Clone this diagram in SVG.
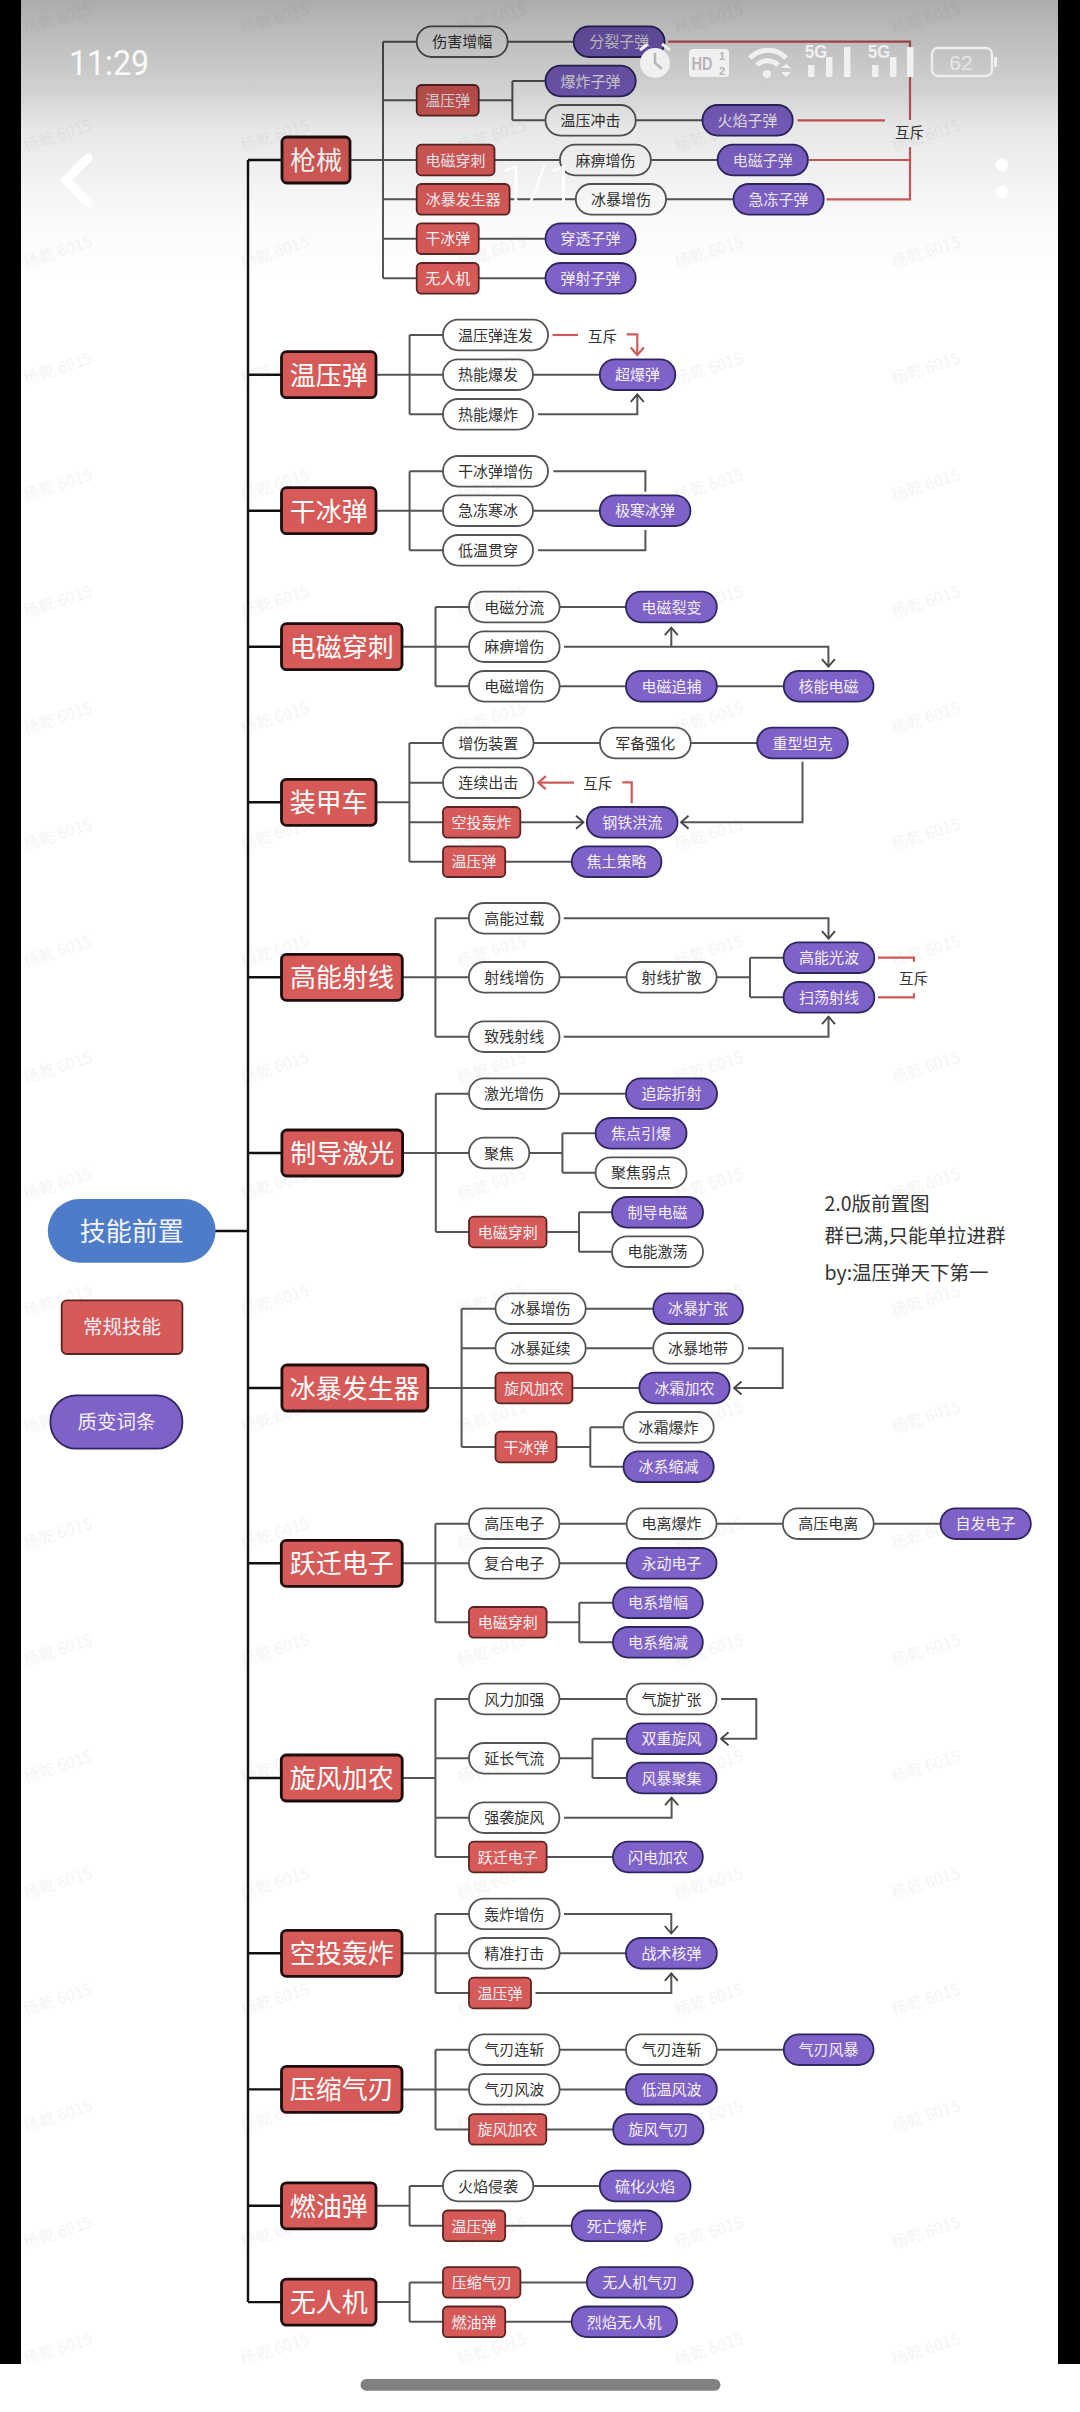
<svg xmlns="http://www.w3.org/2000/svg" width="1080" height="2412" viewBox="0 0 1080 2412">
<style>
text{font-family:"Noto Sans CJK SC","Noto Sans",sans-serif;text-anchor:middle}
.w,.p,.r,.R,.L{stroke-width:1.8}
.w{fill:#fff;stroke:#555;rx:15px}
.p{fill:#7e62c8;stroke:#2e2660;rx:15px}
.r{fill:#d65a57;stroke:#5a2422;rx:4.5px}
.R{fill:#d65a57;stroke:#1c0c0c;stroke-width:2.8;rx:5px}
.t{font-size:15px;fill:#333}
.tw{font-size:15px;fill:#f6f0f6}
.tR{font-size:26px;fill:#fff}
.tL{font-size:19.5px;fill:#f6f0f6}
.c{fill:none;stroke:#555;stroke-width:2}
.k{fill:none;stroke:#111;stroke-width:2.4}
.x{fill:none;stroke:#cf5a5a;stroke-width:2.2}
.a{marker-end:url(#ad)}
.b{marker-end:url(#ar)}
.note{font-size:19.5px;fill:#333;text-anchor:start}
.ic{fill:#f0f0f0}
</style>
<defs>
<marker id="ad" markerUnits="userSpaceOnUse" markerWidth="20" markerHeight="20" refX="10" refY="10" orient="auto"><path d="M2.5 3.5L10 10L2.5 16.5" fill="none" stroke="#444" stroke-width="1.8"/></marker>
<marker id="ar" markerUnits="userSpaceOnUse" markerWidth="20" markerHeight="20" refX="10" refY="10" orient="auto"><path d="M2.5 3.5L10 10L2.5 16.5" fill="none" stroke="#cf5a5a" stroke-width="2.2"/></marker>
<linearGradient id="shade" x1="0" y1="0" x2="0" y2="1"><stop offset="0" stop-color="#000" stop-opacity=".33"/><stop offset=".107" stop-color="#000" stop-opacity=".27"/><stop offset=".321" stop-color="#000" stop-opacity=".18"/><stop offset=".464" stop-color="#000" stop-opacity=".09"/><stop offset=".607" stop-color="#000" stop-opacity=".06"/><stop offset=".786" stop-color="#000" stop-opacity=".02"/><stop offset="1" stop-color="#000" stop-opacity="0"/></linearGradient>
<pattern id="wm" patternUnits="userSpaceOnUse" x="-50.5" y="-38.25" width="217" height="116.5"><text x="108.5" y="63" font-size="16" fill="#8a6a6a" fill-opacity=".09" transform="rotate(-18 108.5 58)">杨乾 6015</text></pattern>
</defs>
<rect width="1080" height="2412" fill="#fff"/>
<rect x="0" y="0" width="21" height="2364" fill="#000"/>
<rect x="1058" y="0" width="22" height="2364" fill="#000"/>

<g id="connectors">
<path class="k" d="M248 160V2302.1M215 1231H248M248 160H282M248 374.7H282M248 510.7H282M248 646.7H282M248 802.3H282M248 977.3H282M248 1153H282M248 1388H282M248 1563.3H282M248 1778H282M248 1953.3H282M248 2089.4H282M248 2205.8H282M248 2302.1H282"/>
<!-- 枪械 -->
<path class="c" d="M350 160H417M383 41.7V278.3M383 41.7H417M383 100.3H417M383 199.3H417M383 238.7H417M383 278.3H417M507.6 41.7H574M478.7 100.3H512.4M512.4 81V120.3M512.4 81H545.5M512.4 120.3H545.5M635.7 120.3H702.5M494.5 160H560M650.8 160H717.6M509.6 199.3H575.8M666 199.3H733.5M478.7 238.7H545.5M478.7 278.3H545.5"/>
<path class="x" d="M668 41.7H910V120M910 147V199.3H826.5M797.5 120.3H885M809 160H910"/>
<!-- 温压弹 -->
<path class="c" d="M376 374.7H443M409.6 335V414.3M409.6 335H443M409.6 414.3H443M533 374.7H600"/>
<path class="c a" d="M538 414.3H637.3V394.3"/>
<path class="x" d="M552.5 335H578"/>
<path class="x b" d="M626.6 334.3H637.3V355"/>
<!-- 干冰弹 -->
<path class="c" d="M376 510.7H443M409.6 471.3V550.3M409.6 471.3H443M409.6 550.3H443M533 510.7H600M553.4 471.3H645.4V491.7M538 550.3H645.4V530"/>
<!-- 电磁穿刺 -->
<path class="c" d="M402 646.7H469M435.5 607V686.3M435.5 607H469M435.5 686.3H469M559.6 607H626M559.6 686.3H626M716.8 686.3H783.8"/>
<path class="c a" d="M564 646.7H828.4V666.7"/>
<path class="c a" d="M671.3 646.7V627.7"/>
<!-- 装甲车 -->
<path class="c" d="M376 802.3H409.4M409.4 743V861.7M409.4 743H443M409.4 782.7H443M409.4 861.7H443M533.5 743H600M690.7 743H757.2M505.2 861.7H571.8"/>
<path class="c a" d="M409.4 822.3H583.5"/>
<path class="c a" d="M802.5 761.7V822.3H681"/>
<path class="x b" d="M574 782.7H538.3"/>
<path class="x" d="M622.3 782.3H631.7V803.3"/>
<!-- 高能射线 -->
<path class="c" d="M402.3 977.3H469M435.4 918.3V1036.7M435.4 918.3H469M435.4 1036.7H469M559.5 977.3H626.5M716.6 977.3H750M750 957.7V997.3M750 957.7H783.6M750 997.3H783.6"/>
<path class="c a" d="M563.7 918.3H828.5V938.7"/>
<path class="c a" d="M563.7 1036.7H828.5V1016.7"/>
<path class="x" d="M878 957.7H914V961.7M878 997.3H914V993.3"/>
<!-- 制导激光 -->
<path class="c" d="M402.6 1153H469M435.8 1093.7V1232M435.8 1093.7H469M435.8 1232H469M559 1093.7H626M529.3 1153H562.4M562.4 1133.3V1172.7M562.4 1133.3H595.6M562.4 1172.7H595.6M546.5 1232H579M579 1212.3V1251.7M579 1212.3H612M579 1251.7H612"/>
<!-- 冰暴发生器 -->
<path class="c" d="M427.8 1388H495.5M461.6 1308.7V1447M461.6 1308.7H495.5M461.6 1348.3H495.5M461.6 1447H495.5M585.7 1308.7H653.3M585.7 1348.3H653.3M572.4 1388H639.4M556.5 1447H590.3M590.3 1427.3V1466.7M590.3 1427.3H623.5M590.3 1466.7H623.5"/>
<path class="c a" d="M748 1348.3H782.7V1388H734"/>
<!-- 跃迁电子 -->
<path class="c" d="M402.2 1563.3H469M435.4 1523.7V1622.3M435.4 1523.7H469M435.4 1622.3H469M559.4 1523.7H626.7M716.5 1523.7H782.9M873.7 1523.7H940.5M559.4 1563.3H626.7M546.6 1622.3H579.3M579.3 1602.7V1642.3M579.3 1602.7H613M579.3 1642.3H613"/>
<!-- 旋风加农 -->
<path class="c" d="M402.2 1778H435.4M435.4 1699V1857M435.4 1699H469M435.4 1758.3H469M435.4 1817.7H469M435.4 1857H469M559.4 1699H626.7M559.4 1758.3H592.5M592.5 1738.7V1778M592.5 1738.7H626.7M592.5 1778H626.7M546.6 1857H613"/>
<path class="c a" d="M721 1699H756.3V1738.7H721"/>
<path class="c a" d="M564 1817.7H671.6V1797.7"/>
<!-- 空投轰炸 -->
<path class="c" d="M402 1953.3H469M435.5 1913.9V1993M435.5 1913.9H469M435.5 1993H469M559.6 1953.3H626"/>
<path class="c a" d="M564 1913.9H671.3V1933.5"/>
<path class="c a" d="M535.5 1993H671.3V1973.3"/>
<!-- 压缩气刃 -->
<path class="c" d="M402 2089.4H469M435.5 2049.7V2129.4M435.5 2049.7H469M435.5 2129.4H469M559.6 2049.7H626M716.8 2049.7H783.8M559.6 2089.4H626M546.3 2129.4H613.2"/>
<!-- 燃油弹 -->
<path class="c" d="M376 2205.8H409.6M409.6 2186V2225.8M409.6 2186H443M409.6 2225.8H443M533.3 2186H599.8M505.2 2225.8H571.7"/>
<!-- 无人机 -->
<path class="c" d="M376 2302.1H409.6M409.6 2282.4V2321.8M409.6 2282.4H443M409.6 2321.8H443M520.4 2282.4H586.9M505.2 2321.8H571.7"/>
</g>

<g id="legend-root"><rect x="47.8" y="1199" width="167.8" height="63.7" rx="31.8" fill="#4f7cc8"/><text x="131.7" y="1241" class="tR" style="fill:#f2f4fa">技能前置</text></g>
<g id="legend-regular"><rect class="L" x="61.7" y="1300.3" width="120.7" height="53.7" rx="5" fill="#d65a57" stroke="#5a2422"/><text class="tL" x="122" y="1334.4">常规技能</text></g>
<g id="legend-mutation"><rect class="L" x="50.4" y="1395.3" width="132" height="53.4" rx="26" fill="#7e62c8" stroke="#2e2660"/><text class="tL" x="116.4" y="1429.4">质变词条</text></g>

<g id="gun"><rect class="R" x="282" y="137" width="68" height="46"/><text class="tR" x="316" y="170">枪械</text></g>
<g id="gun-a1"><rect class="w" x="416.7" y="26.4" width="90.9" height="30.6"/><text class="t" x="462.2" y="47.4">伤害增幅</text></g>
<g id="gun-a2"><rect class="p" x="573.7" y="26.4" width="90.9" height="30.6"/><text class="tw" x="619.2" y="47.4">分裂子弹</text></g>
<g id="gun-b1"><rect class="r" x="416.7" y="85" width="62" height="30.6"/><text class="tw" x="447.7" y="106">温压弹</text></g>
<g id="gun-b2"><rect class="p" x="545.5" y="65.7" width="90.2" height="30.6"/><text class="tw" x="590.6" y="86.7">爆炸子弹</text></g>
<g id="gun-b3"><rect class="w" x="545.5" y="105" width="90.2" height="30.6"/><text class="t" x="590.6" y="126">温压冲击</text></g>
<g id="gun-b4"><rect class="p" x="702.5" y="105" width="90.2" height="30.6"/><text class="tw" x="747.6" y="126">火焰子弹</text></g>
<g id="gun-c1"><rect class="r" x="416.7" y="144.7" width="77.8" height="30.6"/><text class="tw" x="455.6" y="165.7">电磁穿刺</text></g>
<g id="gun-c2"><rect class="w" x="560" y="144.7" width="90.8" height="30.6"/><text class="t" x="605.4" y="165.7">麻痹增伤</text></g>
<g id="gun-c3"><rect class="p" x="717.6" y="144.7" width="90.3" height="30.6"/><text class="tw" x="762.7" y="165.7">电磁子弹</text></g>
<g id="gun-d1"><rect class="r" x="416.7" y="184" width="92.9" height="30.6"/><text class="tw" x="463.2" y="205">冰暴发生器</text></g>
<g id="gun-d2"><rect class="w" x="575.8" y="184" width="90.2" height="30.6"/><text class="t" x="620.9" y="205">冰暴增伤</text></g>
<g id="gun-d3"><rect class="p" x="733.5" y="184" width="90.2" height="30.6"/><text class="tw" x="778.6" y="205">急冻子弹</text></g>
<g id="gun-e1"><rect class="r" x="416.7" y="223.4" width="62" height="30.6"/><text class="tw" x="447.7" y="244.4">干冰弹</text></g>
<g id="gun-e2"><rect class="p" x="545.5" y="223.4" width="90.2" height="30.6"/><text class="tw" x="590.6" y="244.4">穿透子弹</text></g>
<g id="gun-f1"><rect class="r" x="416.7" y="263" width="62" height="30.6"/><text class="tw" x="447.7" y="284">无人机</text></g>
<g id="gun-f2"><rect class="p" x="545.5" y="263" width="90.2" height="30.6"/><text class="tw" x="590.6" y="284">弹射子弹</text></g>
<text id="gun-x" class="t" x="909.5" y="138.4" style="font-size:14.5px">互斥</text>

<g id="thermo"><rect class="R" x="281.5" y="351.7" width="94.5" height="46"/><text class="tR" x="328.7" y="384.6">温压弹</text></g>
<g id="thermo-1"><rect class="w" x="443" y="319.7" width="105" height="30.6"/><text class="t" x="495.5" y="340.7">温压弹连发</text></g>
<g id="thermo-2"><rect class="w" x="443" y="359.4" width="90" height="30.6"/><text class="t" x="488" y="380.4">热能爆发</text></g>
<g id="thermo-3"><rect class="w" x="443" y="399" width="90" height="30.6"/><text class="t" x="488" y="420">热能爆炸</text></g>
<g id="thermo-4"><rect class="p" x="599.8" y="359.4" width="75.5" height="30.6"/><text class="tw" x="637.5" y="380.4">超爆弹</text></g>
<text id="thermo-x" class="t" x="602.5" y="342.4" style="font-size:14.5px">互斥</text>

<g id="ice"><rect class="R" x="281.5" y="487.7" width="94.5" height="46"/><text class="tR" x="328.7" y="520.6">干冰弹</text></g>
<g id="ice-1"><rect class="w" x="443" y="456" width="105" height="30.6"/><text class="t" x="495.5" y="477">干冰弹增伤</text></g>
<g id="ice-2"><rect class="w" x="443" y="495.4" width="90" height="30.6"/><text class="t" x="488" y="516.4">急冻寒冰</text></g>
<g id="ice-3"><rect class="w" x="443" y="535" width="90" height="30.6"/><text class="t" x="488" y="556">低温贯穿</text></g>
<g id="ice-4"><rect class="p" x="599.8" y="495.4" width="90.6" height="30.6"/><text class="tw" x="645.1" y="516.4">极寒冰弹</text></g>

<g id="em"><rect class="R" x="281.5" y="623.7" width="120.5" height="46"/><text class="tR" x="341.7" y="656.6">电磁穿刺</text></g>
<g id="em-1"><rect class="w" x="469" y="591.7" width="90.6" height="30.6"/><text class="t" x="514.3" y="612.7">电磁分流</text></g>
<g id="em-2"><rect class="w" x="469" y="631.4" width="90.6" height="30.6"/><text class="t" x="514.3" y="652.4">麻痹增伤</text></g>
<g id="em-3"><rect class="w" x="469" y="671" width="90.6" height="30.6"/><text class="t" x="514.3" y="692">电磁增伤</text></g>
<g id="em-4"><rect class="p" x="626" y="591.7" width="90.8" height="30.6"/><text class="tw" x="671.4" y="612.7">电磁裂变</text></g>
<g id="em-5"><rect class="p" x="626" y="671" width="90.8" height="30.6"/><text class="tw" x="671.4" y="692">电磁追捕</text></g>
<g id="em-6"><rect class="p" x="783.8" y="671" width="89.7" height="30.6"/><text class="tw" x="828.6" y="692">核能电磁</text></g>

<g id="tank"><rect class="R" x="281.5" y="779.3" width="94.5" height="46"/><text class="tR" x="328.7" y="812.2">装甲车</text></g>
<g id="tank-1"><rect class="w" x="443" y="727.7" width="90.5" height="30.6"/><text class="t" x="488.2" y="748.7">增伤装置</text></g>
<g id="tank-2"><rect class="w" x="600" y="727.7" width="90.7" height="30.6"/><text class="t" x="645.3" y="748.7">军备强化</text></g>
<g id="tank-3"><rect class="p" x="757.2" y="727.7" width="90.6" height="30.6"/><text class="tw" x="802.5" y="748.7">重型坦克</text></g>
<g id="tank-4"><rect class="w" x="443" y="767.4" width="90.5" height="30.6"/><text class="t" x="488.2" y="788.4">连续出击</text></g>
<g id="tank-5"><rect class="r" x="443" y="807" width="77.3" height="30.6"/><text class="tw" x="481.6" y="828">空投轰炸</text></g>
<g id="tank-6"><rect class="p" x="586.9" y="807" width="90.6" height="30.6"/><text class="tw" x="632.2" y="828">钢铁洪流</text></g>
<g id="tank-7"><rect class="r" x="443" y="846.4" width="62.2" height="30.6"/><text class="tw" x="474.1" y="867.4">温压弹</text></g>
<g id="tank-8"><rect class="p" x="571.8" y="846.4" width="89.6" height="30.6"/><text class="tw" x="616.6" y="867.4">焦土策略</text></g>
<text id="tank-x" class="t" x="597.7" y="789" style="font-size:14.5px">互斥</text>

<g id="beam"><rect class="R" x="281.5" y="954.3" width="120.8" height="46"/><text class="tR" x="341.9" y="987.2">高能射线</text></g>
<g id="beam-1"><rect class="w" x="468.9" y="903" width="90.6" height="30.6"/><text class="t" x="514.2" y="924">高能过载</text></g>
<g id="beam-2"><rect class="w" x="468.9" y="962" width="90.6" height="30.6"/><text class="t" x="514.2" y="983">射线增伤</text></g>
<g id="beam-3"><rect class="w" x="468.9" y="1021.4" width="90.6" height="30.6"/><text class="t" x="514.2" y="1042.4">致残射线</text></g>
<g id="beam-4"><rect class="w" x="626.5" y="962" width="90.1" height="30.6"/><text class="t" x="671.5" y="983">射线扩散</text></g>
<g id="beam-5"><rect class="p" x="783.6" y="942.4" width="90.7" height="30.6"/><text class="tw" x="829" y="963.4">高能光波</text></g>
<g id="beam-6"><rect class="p" x="783.6" y="982" width="90.7" height="30.6"/><text class="tw" x="829" y="1003">扫荡射线</text></g>
<text id="beam-x" class="t" x="913.4" y="984.4" style="font-size:14.5px">互斥</text>

<g id="laser"><rect class="R" x="281.9" y="1130" width="120.7" height="46"/><text class="tR" x="342.2" y="1162.9">制导激光</text></g>
<g id="laser-1"><rect class="w" x="469" y="1078.4" width="90" height="30.6"/><text class="t" x="514" y="1099.4">激光增伤</text></g>
<g id="laser-2"><rect class="p" x="626" y="1078.4" width="91" height="30.6"/><text class="tw" x="671.5" y="1099.4">追踪折射</text></g>
<g id="laser-3"><rect class="w" x="469" y="1137.7" width="60.3" height="30.6"/><text class="t" x="499.1" y="1158.7">聚焦</text></g>
<g id="laser-4"><rect class="p" x="595.6" y="1118" width="90.9" height="30.6"/><text class="tw" x="641" y="1139">焦点引爆</text></g>
<g id="laser-5"><rect class="w" x="595.6" y="1157.4" width="90.9" height="30.6"/><text class="t" x="641" y="1178.4">聚焦弱点</text></g>
<g id="laser-6"><rect class="r" x="469" y="1216.7" width="77.5" height="30.6"/><text class="tw" x="507.7" y="1237.7">电磁穿刺</text></g>
<g id="laser-7"><rect class="p" x="612" y="1197" width="91" height="30.6"/><text class="tw" x="657.5" y="1218">制导电磁</text></g>
<g id="laser-8"><rect class="w" x="612" y="1236.4" width="91" height="30.6"/><text class="t" x="657.5" y="1257.4">电能激荡</text></g>

<g id="note"><text class="note" x="824.5" y="1211">2.0版前置图</text><text class="note" x="824.5" y="1243">群已满,只能单拉进群</text><text class="note" x="824.5" y="1280">by:温压弹天下第一</text></g>

<g id="blizzard"><rect class="R" x="281.9" y="1365" width="145.9" height="46"/><text class="tR" x="354.8" y="1397.9">冰暴发生器</text></g>
<g id="bliz-1"><rect class="w" x="495.5" y="1293.4" width="90.2" height="30.6"/><text class="t" x="540.6" y="1314.4">冰暴增伤</text></g>
<g id="bliz-2"><rect class="p" x="653.3" y="1293.4" width="89.6" height="30.6"/><text class="tw" x="698.1" y="1314.4">冰暴扩张</text></g>
<g id="bliz-3"><rect class="w" x="495.5" y="1333" width="90.2" height="30.6"/><text class="t" x="540.6" y="1354">冰暴延续</text></g>
<g id="bliz-4"><rect class="w" x="653.3" y="1333" width="89.6" height="30.6"/><text class="t" x="698.1" y="1354">冰暴地带</text></g>
<g id="bliz-5"><rect class="r" x="495.5" y="1372.7" width="76.9" height="30.6"/><text class="tw" x="534" y="1393.7">旋风加农</text></g>
<g id="bliz-6"><rect class="p" x="639.4" y="1372.7" width="90.2" height="30.6"/><text class="tw" x="684.5" y="1393.7">冰霜加农</text></g>
<g id="bliz-7"><rect class="r" x="495.5" y="1431.7" width="61" height="30.6"/><text class="tw" x="526" y="1452.7">干冰弹</text></g>
<g id="bliz-8"><rect class="w" x="623.5" y="1412" width="90.2" height="30.6"/><text class="t" x="668.6" y="1433">冰霜爆炸</text></g>
<g id="bliz-9"><rect class="p" x="623.5" y="1451.4" width="90.2" height="30.6"/><text class="tw" x="668.6" y="1472.4">冰系缩减</text></g>

<g id="jump"><rect class="R" x="281.3" y="1540.3" width="120.9" height="46"/><text class="tR" x="341.8" y="1573.2">跃迁电子</text></g>
<g id="jump-1"><rect class="w" x="469" y="1508.4" width="90.4" height="30.6"/><text class="t" x="514.2" y="1529.4">高压电子</text></g>
<g id="jump-2"><rect class="w" x="626.7" y="1508.4" width="89.8" height="30.6"/><text class="t" x="671.6" y="1529.4">电离爆炸</text></g>
<g id="jump-3"><rect class="w" x="782.9" y="1508.4" width="90.8" height="30.6"/><text class="t" x="828.3" y="1529.4">高压电离</text></g>
<g id="jump-4"><rect class="p" x="940.5" y="1508.4" width="90.3" height="30.6"/><text class="tw" x="985.6" y="1529.4">自发电子</text></g>
<g id="jump-5"><rect class="w" x="469" y="1548" width="90.4" height="30.6"/><text class="t" x="514.2" y="1569">复合电子</text></g>
<g id="jump-6"><rect class="p" x="626.7" y="1548" width="89.8" height="30.6"/><text class="tw" x="671.6" y="1569">永动电子</text></g>
<g id="jump-7"><rect class="r" x="469" y="1607" width="77.6" height="30.6"/><text class="tw" x="507.8" y="1628">电磁穿刺</text></g>
<g id="jump-8"><rect class="p" x="613" y="1587.4" width="89.8" height="30.6"/><text class="tw" x="657.9" y="1608.4">电系增幅</text></g>
<g id="jump-9"><rect class="p" x="613" y="1627" width="89.8" height="30.6"/><text class="tw" x="657.9" y="1648">电系缩减</text></g>

<g id="cyclone"><rect class="R" x="281.3" y="1755" width="120.9" height="46"/><text class="tR" x="341.8" y="1787.9">旋风加农</text></g>
<g id="cyc-1"><rect class="w" x="469" y="1683.7" width="90.4" height="30.6"/><text class="t" x="514.2" y="1704.7">风力加强</text></g>
<g id="cyc-2"><rect class="w" x="626.7" y="1683.7" width="89.8" height="30.6"/><text class="t" x="671.6" y="1704.7">气旋扩张</text></g>
<g id="cyc-3"><rect class="w" x="469" y="1743" width="90.4" height="30.6"/><text class="t" x="514.2" y="1764">延长气流</text></g>
<g id="cyc-4"><rect class="p" x="626.7" y="1723.4" width="89.8" height="30.6"/><text class="tw" x="671.6" y="1744.4">双重旋风</text></g>
<g id="cyc-5"><rect class="p" x="626.7" y="1762.7" width="89.8" height="30.6"/><text class="tw" x="671.6" y="1783.7">风暴聚集</text></g>
<g id="cyc-6"><rect class="w" x="469" y="1802.4" width="90.4" height="30.6"/><text class="t" x="514.2" y="1823.4">强袭旋风</text></g>
<g id="cyc-7"><rect class="r" x="469" y="1841.7" width="77.6" height="30.6"/><text class="tw" x="507.8" y="1862.7">跃迁电子</text></g>
<g id="cyc-8"><rect class="p" x="613" y="1841.7" width="89.8" height="30.6"/><text class="tw" x="657.9" y="1862.7">闪电加农</text></g>

<g id="airstrike"><rect class="R" x="281.5" y="1930.3" width="120.5" height="46"/><text class="tR" x="341.7" y="1963.2">空投轰炸</text></g>
<g id="air-1"><rect class="w" x="469" y="1898.6" width="90.6" height="30.6"/><text class="t" x="514.3" y="1919.6">轰炸增伤</text></g>
<g id="air-2"><rect class="w" x="469" y="1938" width="90.6" height="30.6"/><text class="t" x="514.3" y="1959">精准打击</text></g>
<g id="air-3"><rect class="r" x="469" y="1977.7" width="62" height="30.6"/><text class="tw" x="500" y="1998.7">温压弹</text></g>
<g id="air-4"><rect class="p" x="626" y="1938" width="90.8" height="30.6"/><text class="tw" x="671.4" y="1959">战术核弹</text></g>

<g id="blade"><rect class="R" x="281.5" y="2066.4" width="120.5" height="46"/><text class="tR" x="341.7" y="2099.3">压缩气刃</text></g>
<g id="blade-1"><rect class="w" x="469" y="2034.4" width="90.6" height="30.6"/><text class="t" x="514.3" y="2055.4">气刃连斩</text></g>
<g id="blade-2"><rect class="w" x="626" y="2034.4" width="90.8" height="30.6"/><text class="t" x="671.4" y="2055.4">气刃连斩</text></g>
<g id="blade-3"><rect class="p" x="783.8" y="2034.4" width="89.7" height="30.6"/><text class="tw" x="828.6" y="2055.4">气刃风暴</text></g>
<g id="blade-4"><rect class="w" x="469" y="2074.1" width="90.6" height="30.6"/><text class="t" x="514.3" y="2095.1">气刃风波</text></g>
<g id="blade-5"><rect class="p" x="626" y="2074.1" width="90.8" height="30.6"/><text class="tw" x="671.4" y="2095.1">低温风波</text></g>
<g id="blade-6"><rect class="r" x="469" y="2114.1" width="77.3" height="30.6"/><text class="tw" x="507.6" y="2135.1">旋风加农</text></g>
<g id="blade-7"><rect class="p" x="613.2" y="2114.1" width="90.2" height="30.6"/><text class="tw" x="658.3" y="2135.1">旋风气刃</text></g>

<g id="napalm"><rect class="R" x="281.5" y="2182.8" width="94.5" height="46"/><text class="tR" x="328.7" y="2215.7">燃油弹</text></g>
<g id="nap-1"><rect class="w" x="443" y="2170.7" width="90.3" height="30.6"/><text class="t" x="488.1" y="2191.7">火焰侵袭</text></g>
<g id="nap-2"><rect class="p" x="599.8" y="2170.7" width="90.7" height="30.6"/><text class="tw" x="645.1" y="2191.7">硫化火焰</text></g>
<g id="nap-3"><rect class="r" x="443" y="2210.5" width="62.2" height="30.6"/><text class="tw" x="474.1" y="2231.5">温压弹</text></g>
<g id="nap-4"><rect class="p" x="571.7" y="2210.5" width="90.2" height="30.6"/><text class="tw" x="616.8" y="2231.5">死亡爆炸</text></g>

<g id="drone"><rect class="R" x="281.5" y="2279.1" width="94.5" height="46"/><text class="tR" x="328.7" y="2312">无人机</text></g>
<g id="drone-1"><rect class="r" x="443" y="2267.1" width="77.4" height="30.6"/><text class="tw" x="481.7" y="2288.1">压缩气刃</text></g>
<g id="drone-2"><rect class="p" x="586.9" y="2267.1" width="105.8" height="30.6"/><text class="tw" x="639.8" y="2288.1">无人机气刃</text></g>
<g id="drone-3"><rect class="r" x="443" y="2306.5" width="62.2" height="30.6"/><text class="tw" x="474.1" y="2327.5">燃油弹</text></g>
<g id="drone-4"><rect class="p" x="571.7" y="2306.5" width="105.3" height="30.6"/><text class="tw" x="624.3" y="2327.5">烈焰无人机</text></g>

<rect x="21" y="0" width="1037" height="2364" fill="url(#wm)"/>
<rect x="21" y="0" width="1037" height="280" fill="url(#shade)"/>

<g id="status">
<text x="109" y="75" style="font-family:Roboto,sans-serif;font-size:35px;fill:#fafafa" textLength="80" lengthAdjust="spacingAndGlyphs">11:29</text>
<circle cx="655" cy="63" r="15" class="ic"/>
<path d="M655 53V63L662 69" fill="none" stroke="#b5b5b5" stroke-width="2.5"/>
<path d="M640 50L648 44M670 50L662 44" stroke="#f0f0f0" stroke-width="3"/>
<rect x="689" y="49" width="40" height="28" rx="4" class="ic"/>
<text x="702" y="70" style="font-family:'Liberation Sans',sans-serif;font-size:19px;font-weight:700;fill:#b5b5b5" textLength="21" lengthAdjust="spacingAndGlyphs">HD</text>
<text x="722" y="60" style="font-family:'Liberation Sans',sans-serif;font-size:11px;font-weight:700;fill:#b5b5b5">1</text>
<text x="722" y="75" style="font-family:'Liberation Sans',sans-serif;font-size:11px;font-weight:700;fill:#b5b5b5">2</text>
<path d="M750 58A25 25 0 0 1 786 58M757 65A15 15 0 0 1 778 65" fill="none" stroke="#f0f0f0" stroke-width="5"/>
<circle cx="767" cy="74" r="4" class="ic"/>
<path d="M781 68L786 64L791 68ZM781 72L791 72L786 77Z" class="ic"/>
<text x="816" y="58" style="font-family:'Liberation Sans',sans-serif;font-size:19px;font-weight:700;fill:#f0f0f0" textLength="22" lengthAdjust="spacingAndGlyphs">5G</text>
<rect x="808" y="65" width="6.5" height="12" class="ic"/><rect x="826" y="57" width="6.5" height="20" class="ic"/><rect x="844" y="47" width="6.5" height="30" class="ic"/>
<text x="879" y="58" style="font-family:'Liberation Sans',sans-serif;font-size:19px;font-weight:700;fill:#f0f0f0" textLength="22" lengthAdjust="spacingAndGlyphs">5G</text>
<rect x="872" y="65" width="6.5" height="12" class="ic"/><rect x="890" y="57" width="6.5" height="20" class="ic"/><rect x="907" y="47" width="6.5" height="30" class="ic"/>
<rect x="932" y="48" width="60" height="28" rx="6" fill="none" stroke="#eeeeee" stroke-width="2.4"/>
<rect x="994" y="57" width="3" height="10" rx="1" class="ic"/>
<text x="961" y="70" style="font-family:'Liberation Sans',sans-serif;font-size:21px;fill:#e8e8e8">62</text>
<path d="M88 158L66 180L88 203" fill="none" stroke="#fff" stroke-width="9" stroke-linecap="round"/>
<text x="538" y="201" style="font-family:Roboto,sans-serif;font-size:50px;font-weight:300;fill:#fdfdfd">1/1</text>
<circle cx="1002" cy="165" r="6.5" fill="#fff"/><circle cx="1002" cy="192" r="6.5" fill="#fff"/>
</g>
<rect id="home-bar" x="360.5" y="2379" width="360" height="11.7" rx="5.8" fill="#808080"/>
</svg>
